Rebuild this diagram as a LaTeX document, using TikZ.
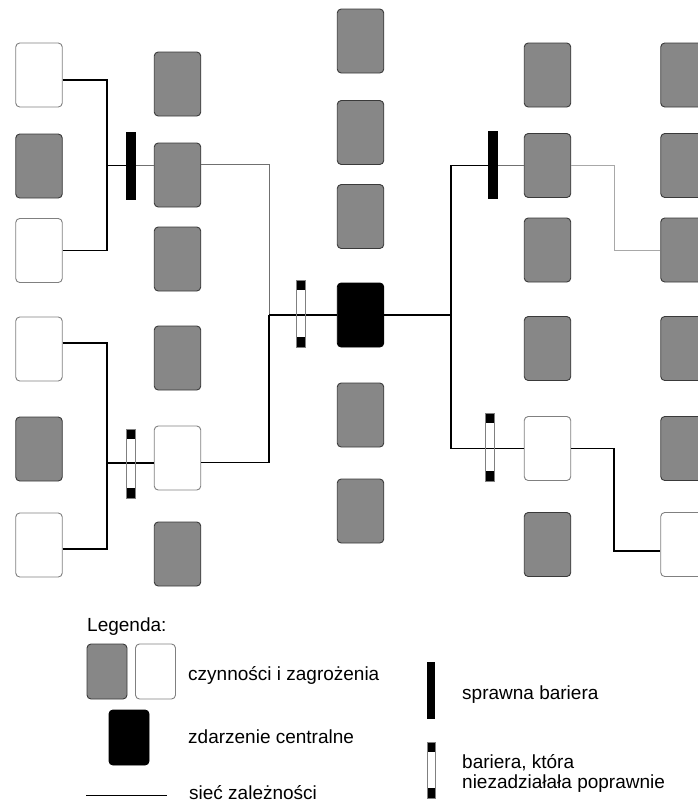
\documentclass[tikz,border=0pt]{standalone}
\usepackage{fontspec}
\setmainfont{Liberation Sans}
\definecolor{boxgray}{HTML}{878787}
\definecolor{boxedge}{HTML}{3A3A3A}
\definecolor{linkgray}{HTML}{707070}
\definecolor{lightgray}{HTML}{A8A8A8}
\begin{document}
\begin{tikzpicture}[x=1pt,y=-1pt,
  box/.style={rectangle,rounded corners=4pt,inner sep=0pt,minimum width=46.5pt,minimum height=64pt,line width=0.9pt},
  gbox/.style={box,fill=boxgray,draw=boxedge},
  wbox/.style={box,fill=white,draw=gray},
  ebox/.style={box,fill=black,draw=black},
  link/.style={line width=1.7pt,black},
  thinlink/.style={line width=0.8pt,linkgray},
  lightlink/.style={line width=0.8pt,lightgray},
  okbar/.style={rectangle,fill=black,inner sep=0pt,minimum width=10pt,minimum height=68pt},
  failbar/.style={rectangle,draw=gray,line width=0.8pt,inner sep=0pt,minimum width=9.5pt,minimum height=68pt,
    path picture={\fill[black] (path picture bounding box.north west) rectangle ([yshift=-10pt]path picture bounding box.north east);
                  \fill[black] (path picture bounding box.south west) rectangle ([yshift=10pt]path picture bounding box.south east);}},
  legtext/.style={anchor=base west,inner sep=0pt,font=\fontsize{19}{20}\selectfont}]
\useasboundingbox (0,0) rectangle (698,804);
% columns of boxes
\foreach \n/\y/\s in {1/75/wbox,2/166/gbox,3/250.5/wbox,4/349/wbox,5/449/gbox,6/545/wbox}
  \node[\s] (a\n) at (39,\y) {};
\foreach \n/\y/\s in {1/84/gbox,2/175/gbox,3/259/gbox,4/358/gbox,5/458/wbox,6/554/gbox}
  \node[\s] (b\n) at (177.5,\y) {};
\foreach \n/\y/\s in {1/41/gbox,2/132.5/gbox,3/216.5/gbox,4/315/ebox,5/415/gbox,6/511/gbox}
  \node[\s] (c\n) at (360.5,\y) {};
\foreach \n/\y/\s in {1/75/gbox,2/165.5/gbox,3/250/gbox,4/348.5/gbox,5/448.5/wbox,6/544.5/gbox}
  \node[\s] (d\n) at (547.5,\y) {};
\foreach \n/\y/\s in {1/75/gbox,2/165.5/gbox,3/250/gbox,4/348.5/gbox,5/448.5/gbox,6/544.5/wbox}
  \node[\s] (e\n) at (684,\y) {};
% junctions of the network
\coordinate (hubL1) at (107,165.5);
\coordinate (hubL2) at (107,463);
\coordinate (hubC) at (269,315);
\coordinate (hubR) at (451,315);
\coordinate (turnR1) at (614,250);
\coordinate (turnR2) at (614,551);
% left side
\draw[link] ([yshift=-5pt]a1.east) -| (hubL1);
\draw[link] (a3.east) -| (hubL1);
\draw[link] (hubL1) -- (hubL1 -| b2.west);
\draw[thinlink] ([yshift=11pt]b2.east) -| (hubC);
\draw[link] ([yshift=6pt]a4.east) -| (hubL2);
\draw[link] ([yshift=-4pt]a6.east) -| (hubL2);
\draw[link] (hubL2) -- (hubL2 -| b5.west);
\draw[link] ([yshift=-4.5pt]b5.east) -| (hubC);
\draw[link] (hubC) -- (c4);
% right side
\draw[link] (c4) -- (hubR);
\draw[link] (hubR) |- (d2);
\draw[lightlink] (d2) -| (turnR1) -- (e3);
\draw[link] (hubR) |- (d5);
\draw[link] (d5) -| (turnR2) -- (turnR2 -| e6.west);
% barriers
\node[okbar] (barL) at (131,165.5) {};
\draw[thinlink] (barL.east) -- (barL.east -| b2.west);
\node[okbar] (barR) at (493,165) {};
\draw[thinlink] (barR.east) -- (barR.east -| d2.west);
\node[failbar,minimum height=69pt] (failL) at (131,463.5) {};
\node[failbar,minimum width=9pt,minimum height=67pt] (failC) at (300.5,313.5) {};
\node[failbar,minimum width=9pt] (failR) at (489.5,447) {};
% legend
\node[legtext] (legTitle) at (87,631) {Legenda:};
\node[gbox,minimum width=40pt,minimum height=55pt] (legG) at (107,671.5) {};
\node[wbox,minimum width=40pt,minimum height=55pt] (legW) at (155.5,671.5) {};
\node[legtext] (legBoxes) at (188,680) {czynności i zagrożenia};
\node[ebox,minimum width=40pt,minimum height=55pt] (legE) at (129,737.5) {};
\node[legtext] (legTop) at (188,743) {zdarzenie centralne};
\draw[line width=1pt] (86,795) -- (167,795);
\node[legtext] (legNet) at (189,799) {sieć zależności};
\node[okbar,minimum width=8pt,minimum height=57pt] (legOk) at (431,690.5) {};
\node[legtext] (legOkText) at (462,699) {sprawna bariera};
\node[failbar,minimum width=8pt,minimum height=56pt] (legFail) at (431,770) {};
\node[legtext] (legFailA) at (462,768) {bariera, która};
\node[legtext] (legFailB) at (462,788) {niezadziałała poprawnie};
\end{tikzpicture}
\end{document}
